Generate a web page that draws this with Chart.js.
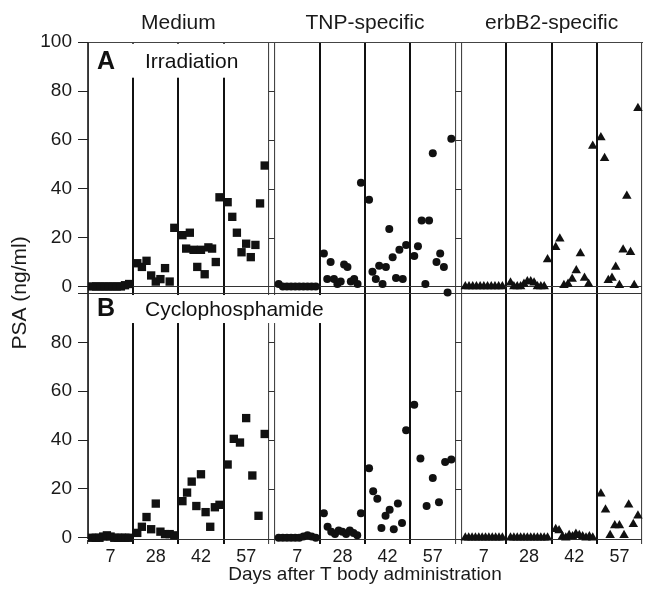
<!DOCTYPE html>
<html><head><meta charset="utf-8">
<script src="https://cdn.jsdelivr.net/npm/chart.js@4.4.1/dist/chart.umd.min.js"></script>
<style>html,body{margin:0;padding:0;background:#fff;}canvas{display:block;}</style>
</head><body>
<canvas id="c" width="649" height="597"></canvas>
<script>
// ---- labels ----
const dayLabels = ['7', '28', '42', '57'];
const groupLabels = ['Medium', 'TNP-specific', 'erbB2-specific'];
const panelLetters = ['A', 'B'];
const panelTitles = ['Irradiation', 'Cyclophosphamide'];
const yTickValues = [0, 20, 40, 60, 80, 100];

// ---- Panel A (Irradiation): PSA ng/ml per mouse, days 7 / 28 / 42 / 57 ----
const irrMedium7  = [0, 0, 0, 0, 0, 0, 0, 0, 0.5, 1];
const irrMedium28 = [9.5, 8, 10.5, 4.5, 2, 3, 7.5, 2, 24];
const irrMedium42 = [21, 15.5, 22, 15, 8, 15, 5, 16, 15.5, 10, 36.5];
const irrMedium57 = [34.5, 28.5, 22, 14, 17.5, 12, 17, 34, 49.5];

const irrTNP7  = [1, 0, 0, 0, 0, 0, 0, 0, 0, 0];
const irrTNP28 = [13.5, 3, 10, 3, 1, 2, 9, 8, 2, 3, 1, 42.5];
const irrTNP42 = [35.5, 6, 3, 8.5, 1, 8, 23.5, 12, 3.5, 15, 3, 17];
const irrTNP57 = [12.5, 16.5, 27, 1, 27, 54.5, 10, 13.5, 8, -2.5, 60.5];

const irrErb7  = [0, 0, 0, 0, 0, 0, 0, 0, 0, 0, 0];
const irrErb28 = [1.5, 0, 0, 0, 1, 2, 2, 1.5, 0, 0, 0, 11];
const irrErb42 = [16, 19.5, 0.5, 1, 3, 6.5, 13.5, 3.5, 1, 57.5];
const irrErb57 = [61, 52.5, 2.5, 3.5, 8, 0.5, 15, 37, 14, 0.5, 73];

// ---- Panel B (Cyclophosphamide) ----
const cycMedium7  = [0, 0, 0, 0.5, 1, 0.5, 0, 0, 0, 0, 0];
const cycMedium28 = [2, 4.5, 8.5, 3.5, 14, 2.5, 1.5, 1.5, 1];
const cycMedium42 = [15, 18.5, 23, 13, 26, 10.5, 4.5, 12.5, 13.5];
const cycMedium57 = [30, 40.5, 39, 49, 25.5, 9, 42.5];

const cycTNP7  = [0, 0, 0, 0, 0, 0, 0.5, 1, 0.5, 0];
const cycTNP28 = [10, 4.5, 2.5, 1.5, 3, 2.5, 1.5, 3, 2, 1, 10];
const cycTNP42 = [28.5, 19, 16, 4, 9, 11.5, 3.5, 14, 6, 44];
const cycTNP57 = [54.5, 32.5, 13, 24.5, 14.5, 31, 32];

const cycErb7  = [0, 0, 0, 0, 0, 0, 0, 0, 0, 0, 0, 0];
const cycErb28 = [0, 0, 0, 0, 0, 0, 0, 0, 0, 0, 0, 0];
const cycErb42 = [3.5, 3, 0.5, 0, 1, 0.5, 1.5, 1, 0.5, 0, 0.5, 0];
const cycErb57 = [18, 11.5, 1, 5, 5, 1, 13.5, 5.5, 9];

// ---- layout of the strip plot on a linear x scale ----
const SUB = 10, GAP = 1.3;
const groupStart = g => g * (4 * SUB + GAP);
const xMax = groupStart(2) + 4 * SUB;
const dayCenters = [], dayBounds = [], groupCenters = [];
for (let g = 0; g < 3; g++) {
  groupCenters.push(groupStart(g) + 2 * SUB);
  for (let d = 0; d < 4; d++) dayCenters.push(groupStart(g) + d * SUB + SUB / 2);
  for (let d = 0; d <= 4; d++) dayBounds.push(groupStart(g) + d * SUB);
}

function stripPoints(g, series) {
  const pts = [];
  series.forEach((vals, d) => {
    const n = vals.length;
    vals.forEach((v, i) => {
      const x = groupStart(g) + d * SUB + 0.9 + (n > 1 ? i * (SUB - 1.8) / (n - 1) : (SUB - 1.8) / 2);
      pts.push({ x, y: v });
    });
  });
  return pts;
}

const markers = [
  { pointStyle: 'rect', pointRadius: 5.9 },
  { pointStyle: 'circle', pointRadius: 4 },
  { pointStyle: 'triangle', pointRadius: 5.5 }
];
const panels = [
  { axis: 'yA', series: [[irrMedium7, irrMedium28, irrMedium42, irrMedium57], [irrTNP7, irrTNP28, irrTNP42, irrTNP57], [irrErb7, irrErb28, irrErb42, irrErb57]] },
  { axis: 'yB', series: [[cycMedium7, cycMedium28, cycMedium42, cycMedium57], [cycTNP7, cycTNP28, cycTNP42, cycTNP57], [cycErb7, cycErb28, cycErb42, cycErb57]] }
];
const datasets = [];
panels.forEach((p, pi) => p.series.forEach((s, g) => datasets.push({
  label: panelTitles[pi] + ' ' + groupLabels[g],
  data: stripPoints(g, s),
  xAxisID: 'x', yAxisID: p.axis,
  pointStyle: markers[g].pointStyle,
  pointRadius: markers[g].pointRadius,
  pointHoverRadius: markers[g].pointRadius,
  backgroundColor: '#111', borderColor: '#111', borderWidth: 0,
  clip: false
})));

const FONT = '"Liberation Sans", Arial, Helvetica, sans-serif';
Chart.defaults.font.family = FONT;
Chart.defaults.color = '#1a1a1a';

const panelLabelPlugin = {
  id: 'panelLabels',
  beforeDatasetsDraw(chart) {
    const { ctx, chartArea } = chart;
    const xs = chart.scales.xGrid;
    // short tick marks in the gaps between group boxes
    ctx.save();
    ctx.strokeStyle = '#333';
    ctx.lineWidth = 1;
    [1, 2].forEach(g => {
      const x1 = xs.getPixelForValue(groupStart(g) - GAP);
      const x2 = xs.getPixelForValue(groupStart(g));
      ['yA', 'yB'].forEach(id => {
        const ys = chart.scales[id];
        [20, 40, 60, 80].forEach(v => {
          const y = Math.round(ys.getPixelForValue(v)) + 0.5;
          ctx.beginPath(); ctx.moveTo(x1, y); ctx.lineTo(x2, y); ctx.stroke();
        });
      });
    });
    ctx.restore();

    const items = [
      { scale: chart.scales.yA, mw: 150, mh: 34, ty: 20 },
      { scale: chart.scales.yB, mw: 244, mh: 28, ty: 16 }
    ];
    items.forEach((it, k) => {
      const top = it.scale.top, left = chartArea.left;
      ctx.save();
      ctx.fillStyle = '#fff';
      ctx.fillRect(left + 1.5, top + 1.5, it.mw, it.mh);
      ctx.fillStyle = '#111';
      ctx.textBaseline = 'middle';
      ctx.textAlign = 'left';
      ctx.font = 'bold 25px ' + FONT;
      ctx.fillText(panelLetters[k], left + 9, top + it.ty);
      ctx.font = '21px ' + FONT;
      ctx.fillText(panelTitles[k], left + 57, top + it.ty + 0.5);
      ctx.restore();
    });
  }
};

const boundaryStyle = (ctx) => {
  const i = ctx.index % 5;
  return (i === 0 || i === 4);
};

new Chart(document.getElementById('c'), {
  type: 'scatter',
  data: { datasets },
  plugins: [panelLabelPlugin],
  options: {
    responsive: false,
    animation: false,
    events: [],
    layout: { padding: { top: 5, bottom: 16.2, left: 0, right: 7 } },
    plugins: {
      legend: { display: false },
      tooltip: { enabled: false },
      title: {
        display: true, position: 'left', text: 'PSA (ng/ml)',
        font: { size: 21, weight: 'normal' }, color: '#1a1a1a',
        padding: { top: 8, bottom: 1.1 }
      }
    },
    scales: {
      x: {
        type: 'linear', position: 'bottom', weight: 1, min: 0, max: xMax,
        afterBuildTicks: s => { s.ticks = dayCenters.map(v => ({ value: v })); },
        ticks: { autoSkip: false, maxRotation: 0, minRotation: 0, padding: 5.5,
          font: { size: 18, lineHeight: 0.8 }, color: '#1a1a1a',
          callback: (v, i) => dayLabels[i % 4] },
        grid: { display: false, drawTicks: false },
        border: { display: false },
        title: { display: true, text: 'Days after T body administration',
          font: { size: 19, lineHeight: 0.6 }, color: '#1a1a1a', padding: { top: 0, bottom: 0 } }
      },
      xGrid: {
        type: 'linear', position: 'bottom', weight: 0, min: 0, max: xMax,
        afterBuildTicks: s => { s.ticks = dayBounds.map(v => ({ value: v })); },
        ticks: { display: false },
        grid: {
          display: true, drawTicks: true, tickLength: 5,
          color: ctx => boundaryStyle(ctx) ? '#444' : '#111',
          lineWidth: ctx => boundaryStyle(ctx) ? 1.1 : 2
        },
        border: { display: true, color: '#333', width: 1 }
      },
      xTop: {
        type: 'linear', position: 'top', min: 0, max: xMax,
        afterBuildTicks: s => { s.ticks = groupCenters.map(v => ({ value: v })); },
        ticks: { autoSkip: false, maxRotation: 0, padding: 6,
          font: { size: 21 }, color: '#1a1a1a',
          callback: (v, i) => groupLabels[i] },
        grid: { display: false, drawTicks: false },
        border: { display: true, color: '#444', width: 1 }
      },
      yA: {
        type: 'linear', position: 'left', stack: 'psa', stackWeight: 102.9, weight: 2,
        min: -2.9, max: 100,
        afterBuildTicks: s => { s.ticks = yTickValues.map(v => ({ value: v })); },
        ticks: { font: { size: 19 }, padding: 6, color: '#1a1a1a' },
        grid: {
          tickLength: 10, tickColor: '#222', tickWidth: 1,
          color: ctx => (ctx.tick && (ctx.tick.value === 0 || ctx.tick.value === 100)) ? '#333' : 'rgba(0,0,0,0)',
          lineWidth: 1
        },
        border: { display: true, color: '#333', width: 1 }
      },
      yB: {
        type: 'linear', position: 'left', stack: 'psa', stackWeight: 100.5, weight: 1,
        min: -0.5, max: 100,
        afterBuildTicks: s => { s.ticks = yTickValues.map(v => ({ value: v })); },
        ticks: { font: { size: 19 }, padding: 6, color: '#1a1a1a',
          callback: v => (v === 100 ? '' : v) },
        grid: {
          tickLength: 10, tickColor: '#222', tickWidth: 1,
          color: ctx => (ctx.tick && ctx.tick.value === 100) ? '#333' : 'rgba(0,0,0,0)',
          lineWidth: 1
        },
        border: { display: true, color: '#333', width: 1 }
      }
    }
  }
});
</script>
</body></html>
